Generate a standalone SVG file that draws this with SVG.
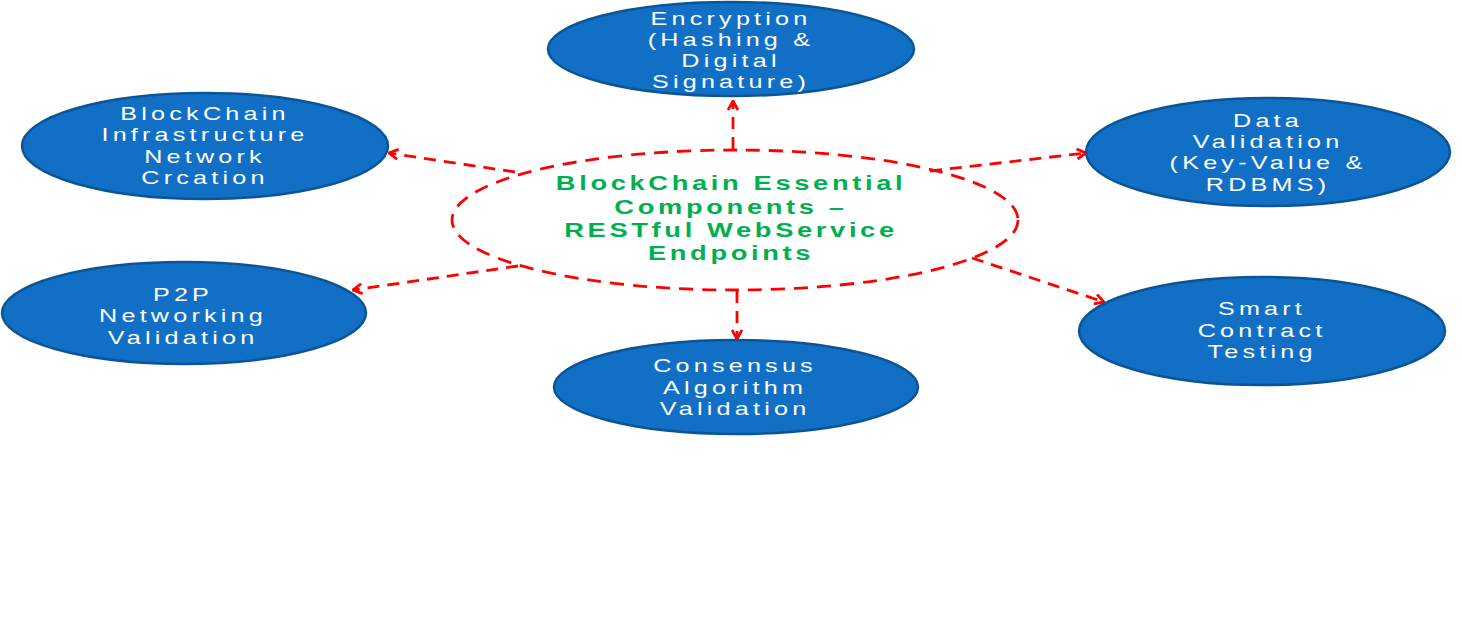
<svg xmlns="http://www.w3.org/2000/svg" width="1462" height="623" viewBox="0 0 1462 623">
<defs>
<style>
.node{fill:#1170C6;stroke:#0B5596;stroke-width:2.5}
.t{font-family:"Liberation Sans",Arial,sans-serif;font-size:18px;fill:#ffffff;letter-spacing:3px;text-anchor:middle}
.ct{font-family:"Liberation Sans",Arial,sans-serif;font-size:19.5px;font-weight:bold;fill:#00B050;letter-spacing:2.6px;text-anchor:middle}
.hub{fill:none;stroke:#FF0000;stroke-width:2.8;stroke-dasharray:14 9}
.c{fill:none;stroke:#FF0000;stroke-width:2.8;stroke-dasharray:12 8}
</style>
<marker id="ah" viewBox="0 0 12 12" refX="11" refY="6" markerWidth="12" markerHeight="12" markerUnits="userSpaceOnUse" orient="auto">
<polyline points="2,1 11,6 2,11" fill="none" stroke="#FF0000" stroke-width="2.8"/>
</marker>
</defs>
<rect width="1462" height="623" fill="#ffffff"/>
<g id="hub">
<ellipse class="hub" cx="735" cy="220" rx="283" ry="70"/>
<g transform="translate(731 0) scale(1.4 1)">
<text class="ct" x="0" y="190">BlockChain Essential</text>
<text class="ct" x="0" y="214">Components –</text>
<text class="ct" x="0" y="237">RESTful WebService</text>
<text class="ct" x="0" y="260">Endpoints</text>
</g>
</g>
<g id="connectors">
<path class="c" d="M733 149 L733 101" marker-end="url(#ah)"/>
<path class="c" d="M737 291 L737 339" marker-end="url(#ah)"/>
<path class="c" d="M515 172 L389 153" marker-end="url(#ah)"/>
<path class="c" d="M930 171 L1086 153" marker-end="url(#ah)"/>
<path class="c" d="M518 266 L353 290" marker-end="url(#ah)"/>
<path class="c" d="M972 258 L1104 302" marker-end="url(#ah)"/>
</g>
<g id="encryption">
<ellipse class="node" cx="731" cy="49" rx="183" ry="47"/>
<g transform="translate(731 0) scale(1.4 1)">
<text class="t" x="0" y="25">Encryption</text>
<text class="t" x="0" y="46">(Hashing &amp;</text>
<text class="t" x="0" y="67">Digital</text>
<text class="t" x="0" y="88">Signature)</text>
</g>
</g>
<g id="infrastructure">
<ellipse class="node" cx="205" cy="146" rx="183" ry="53"/>
<g transform="translate(205 0) scale(1.4 1)">
<text class="t" x="0" y="120">BlockChain</text>
<text class="t" x="0" y="141">Infrastructure</text>
<text class="t" x="0" y="163">Network</text>
<text class="t" x="0" y="184">Crcation</text>
</g>
</g>
<g id="data-validation">
<ellipse class="node" cx="1268" cy="152" rx="182" ry="54"/>
<g transform="translate(1268 0) scale(1.4 1)">
<text class="t" x="0" y="127">Data</text>
<text class="t" x="0" y="148">Validation</text>
<text class="t" x="0" y="169">(Key-Value &amp;</text>
<text class="t" x="0" y="191">RDBMS)</text>
</g>
</g>
<g id="p2p">
<ellipse class="node" cx="184" cy="313" rx="182" ry="51"/>
<g transform="translate(183 0) scale(1.4 1)">
<text class="t" x="0" y="301">P2P</text>
<text class="t" x="0" y="322">Networking</text>
<text class="t" x="0" y="344">Validation</text>
</g>
</g>
<g id="smart-contract">
<ellipse class="node" cx="1262" cy="331" rx="183" ry="54"/>
<g transform="translate(1262 0) scale(1.4 1)">
<text class="t" x="0" y="315">Smart</text>
<text class="t" x="0" y="337">Contract</text>
<text class="t" x="0" y="358">Testing</text>
</g>
</g>
<g id="consensus">
<ellipse class="node" cx="736" cy="387" rx="182" ry="47"/>
<g transform="translate(735 0) scale(1.4 1)">
<text class="t" x="0" y="372">Consensus</text>
<text class="t" x="0" y="394">Algorithm</text>
<text class="t" x="0" y="415">Validation</text>
</g>
</g>
</svg>
